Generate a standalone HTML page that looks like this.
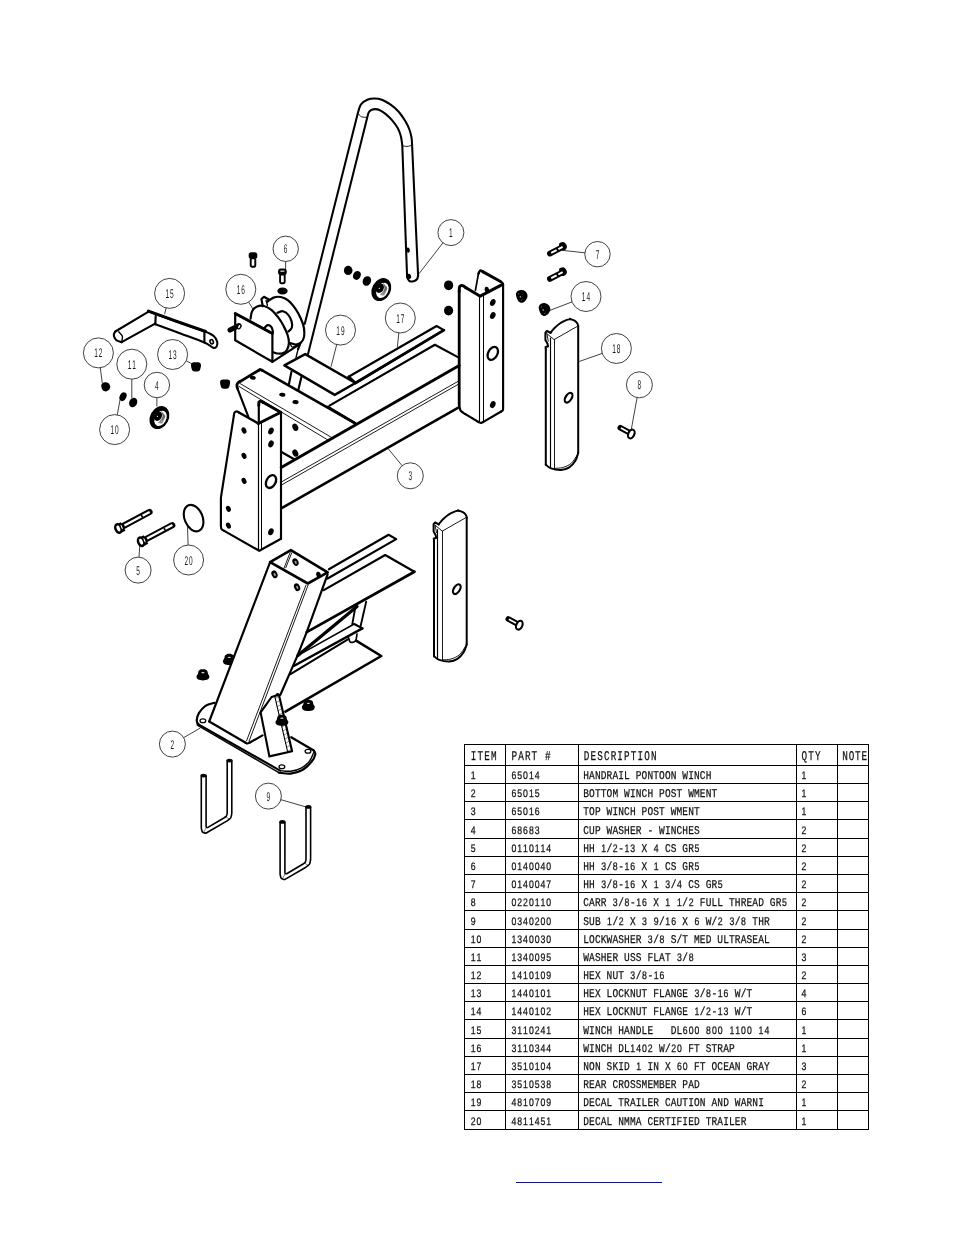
<!DOCTYPE html>
<html lang="en">
<head>
<meta charset="utf-8">
<title>Winch Post Assembly - Parts List</title>
<style>
html,body{margin:0;padding:0;background:#fff;}
body{width:954px;height:1235px;overflow:hidden;position:relative;font-family:"Liberation Mono","Liberation Sans",monospace;}
svg{position:absolute;left:0;top:0;display:block;will-change:transform;}
.k{fill:none;stroke:#000;stroke-width:2.15;stroke-linejoin:round;stroke-linecap:round;}
.m{fill:none;stroke:#000;stroke-width:1.4;stroke-linejoin:round;stroke-linecap:round;}
.t{fill:none;stroke:#000;stroke-width:0.9;stroke-linejoin:round;stroke-linecap:round;}
.w{fill:#fff;stroke:#000;stroke-width:2.15;stroke-linejoin:round;stroke-linecap:round;}
.wm{fill:#fff;stroke:#000;stroke-width:1.3;stroke-linejoin:round;stroke-linecap:round;}
.f{fill:#000;stroke:none;}
.b{fill:#fff;stroke:#111;stroke-width:0.8;}
.l{fill:none;stroke:#111;stroke-width:0.8;}
.g{fill:none;stroke:#000;stroke-width:1;shape-rendering:crispEdges;}
text{font-family:"Liberation Mono","Liberation Sans",monospace;fill:#111;stroke:#111;stroke-width:0.25;text-rendering:geometricPrecision;}
.bt{text-anchor:middle;font-family:"Liberation Sans",sans-serif;stroke:none;fill:#1a1a1a;}
.d{font-family:"Liberation Sans",sans-serif;}


</style>
</head>
<body>
<svg width="954" height="1235" viewBox="0 0 954 1235">
<g id="handrail">
<path class="k" d="M304.7 324L357.8 113.3C358.3 111.8 359.4 106.7 361 104.4C362.5 102.1 365 100.7 367.3 99.7C369.5 98.7 372.1 98.4 374.6 98.4C377 98.4 379.3 98.7 381.9 99.7C384.5 100.7 387.5 102.4 390.3 104.4C393.1 106.4 396.3 109 398.7 111.7C401.1 114.4 403.2 117.8 405 120.6C406.7 123.5 408.1 126.2 409.2 129C410.3 131.8 411 134.7 411.5 137.4C412 140.1 412 144 412.1 145.3L418.1 275.6" style="stroke-width:2.05"/>
<path class="k" d="M418.1 275.6C417.9 276.2 417.8 278.3 417 279.2C416.3 280.2 414.7 281.1 413.4 281.3C412.1 281.6 410.2 281.5 409.2 280.8C408.1 280.1 407.4 277.7 407.1 277.1"/>
<path class="k" d="M307.9 354.6L367.5 116.4C367.7 115.7 368.2 113.3 368.8 112.3C369.5 111.2 370.4 110.5 371.4 109.9C372.5 109.4 373.7 109.1 375.1 109.1C376.5 109.1 378 109.3 379.8 110.2C381.7 111 384 112.6 386.1 114.4C388.2 116.1 390.5 118.4 392.4 120.6C394.3 122.9 396.3 125.5 397.7 128C399 130.4 399.9 133 400.6 135.3C401.3 137.6 401.6 139.9 401.8 141.6C402.1 143.4 402.2 145.1 402.3 145.8L407.1 277.1" style="stroke-width:2.05"/>
<path class="k" d="M291.4 371.9L288.8 384.9"/>
<path class="k" d="M301.4 376.9L298.3 389.9"/>
<path class="t" d="M357.8 113.3C358.4 113.9 359.9 116.1 361.5 116.8C363.1 117.4 366.5 117.2 367.5 117.3"/>
<path class="t" d="M402.3 145.8C403.1 145.9 405.4 146.5 407.1 146.4C408.7 146.3 411.3 145.5 412.1 145.3"/>
<ellipse class="f" cx="408.1" cy="250.1" rx="1.7" ry="2.6" transform="rotate(-10 408.1 250.1)"/>
<ellipse class="f" cx="409.2" cy="276.3" rx="1.9" ry="2.6" transform="rotate(-20 409.2 276.3)"/>
</g>
<g id="weldment">
<path class="k" d="M237.4 388.3C237.3 387.7 236.8 386 236.9 385.1C237 384.2 237.2 383.7 237.9 383C238.5 382.3 240.3 381.4 240.8 381.1" style="stroke-width:2.8"/>
<path class="k" d="M240.8 381.1L259.3 370" style="stroke-width:2.8"/>
<path class="k" d="M259.3 370C259.5 369.9 260.1 369.5 260.5 369.5C261 369.6 261.9 370.2 262.2 370.3" style="stroke-width:2.8"/>
<path class="k" d="M262.2 370.3L355.3 423.4" style="stroke-width:2.6"/>
<path class="k" d="M237.4 388.3L248.3 416.6"/>
<path class="t" d="M239.8 383.4L333.5 438.6"/>
<path class="t" d="M238.9 386.4L329.5 441"/>
<path class="k" d="M327.8 406.9L355.3 423.4" style="stroke-width:2.6"/>
<path class="k" d="M281.2 467.6L459.2 365.6" style="stroke-width:2.9"/>
<path class="k" d="M281.2 508.4L459.2 407.1" style="stroke-width:2.5"/>
<path class="t" d="M281.5 481.9L459.2 380.7"/>
<path class="t" d="M281.5 485L459.2 383.8"/>
<path class="k" d="M329.5 405.6L434.9 344.8L458.8 357.6"/>
<path class="k" d="M281 451.8L294.2 459.3"/>
<path class="k" d="M233.9 415.3C234 414.9 234 413.2 234.5 412.5C235 411.9 235.9 411.3 236.6 411.3C237.4 411.3 238.5 412.3 238.9 412.5"/>
<path class="k" d="M238.9 412.5L258.4 423.5" style="stroke-width:2.5"/>
<path class="k" d="M233.9 415.3L220.9 497.7L220.9 526"/>
<path class="k" d="M220.9 526C221 526.6 221 528.4 221.5 529.2C222.1 530 223.8 530.6 224.2 530.9"/>
<path class="k" d="M224.2 530.9L259.3 550.8L281 538.8"/>
<path class="k" d="M258.4 423.5L280.4 412.5" style="stroke-width:3"/>
<path class="k" d="M258.8 405.3C258.8 404.7 258.7 402.8 259 402.1C259.4 401.4 260.2 401.2 260.9 401.2C261.6 401.3 263 402.3 263.4 402.5" style="stroke-width:3"/>
<path class="k" d="M263.4 402.5L280.7 412.2" style="stroke-width:3"/>
<path class="k" d="M258.8 405.3L258.8 423.1"/>
<path class="k" d="M281 412.3L281 538.8"/>
<path class="m" d="M258.5 423.5L258.5 550.5" style="stroke-width:1.2"/>
<path class="m" d="M261.5 423L261.5 549.5" style="stroke-width:1.0"/>
<ellipse class="f" cx="252.7" cy="377.7" rx="3.1" ry="2" transform="rotate(8 252.7 377.7)"/>
<ellipse class="f" cx="282.3" cy="394.8" rx="3.1" ry="2" transform="rotate(8 282.3 394.8)"/>
<ellipse class="f" cx="295.5" cy="402.1" rx="3.1" ry="2" transform="rotate(8 295.5 402.1)"/>
<ellipse class="f" cx="244" cy="430.5" rx="2.3" ry="3.2" transform="rotate(-25 244 430.5)"/>
<ellipse class="f" cx="244" cy="455.8" rx="2.3" ry="3.2" transform="rotate(-25 244 455.8)"/>
<ellipse class="f" cx="244" cy="480.9" rx="2.3" ry="3.2" transform="rotate(-25 244 480.9)"/>
<ellipse class="f" cx="228.4" cy="508.8" rx="2.3" ry="3.2" transform="rotate(-25 228.4 508.8)"/>
<ellipse class="f" cx="228.4" cy="525.6" rx="2.3" ry="3.2" transform="rotate(-25 228.4 525.6)"/>
<ellipse class="f" cx="271" cy="431" rx="2.6" ry="3.6" transform="rotate(25 271 431)"/>
<ellipse class="f" cx="271" cy="443.9" rx="2.6" ry="3.6" transform="rotate(25 271 443.9)"/>
<ellipse class="f" cx="270.9" cy="531.8" rx="2.6" ry="3.6" transform="rotate(25 270.9 531.8)"/>
<ellipse class="f" cx="295.3" cy="427.3" rx="2.8" ry="3.8" transform="rotate(-25 295.3 427.3)"/>
<ellipse class="f" cx="295.3" cy="453.1" rx="2.8" ry="3.8" transform="rotate(-25 295.3 453.1)"/>
<ellipse class="k" cx="271" cy="481.6" rx="4.6" ry="6.8" transform="rotate(28 271 481.6)" style="stroke-width:2.3"/>
<path class="k" d="M459.2 291.4C459.3 290.6 459.1 287.5 459.7 286.5C460.3 285.6 461.8 285.5 462.8 285.7C463.9 285.9 465.4 287.4 466 287.8" style="stroke-width:3"/>
<path class="k" d="M466 287.8L480.2 296.2L502.6 284.4" style="stroke-width:3"/>
<path class="k" d="M459.2 291.4L459.2 405" style="stroke-width:2.8"/>
<path class="k" d="M459.2 405C459.4 405.9 459.6 409.1 460.6 410.6C461.6 412.1 464.6 413.6 465.4 414.2"/>
<path class="k" d="M465.4 414.2L478.5 422"/>
<path class="k" d="M478.5 422C479 422.1 480.2 423.1 481 423C481.9 422.9 483.3 421.8 483.8 421.6"/>
<path class="k" d="M483.8 421.6L501.2 411.5"/>
<path class="k" d="M501.2 411.5C501.5 411.3 502.5 410.9 502.9 410.2C503.2 409.6 503 408.1 503.1 407.7"/>
<path class="k" d="M503.1 407.7L503.1 284.4"/>
<path class="k" d="M503.1 284.4C503 284.2 503.1 283.5 502.6 283C502.2 282.5 500.9 281.8 500.5 281.5"/>
<path class="k" d="M500.5 281.5L483.1 271.9" style="stroke-width:3"/>
<path class="k" d="M483.1 271.9C482.7 271.7 481 270.3 480.2 270.6C479.4 270.9 478.8 273.1 478.5 273.5" style="stroke-width:2.5"/>
<path class="k" d="M478.5 273.5L475.4 290.3" style="stroke-width:1.7"/>
<path class="m" d="M479.5 296.5L479.5 422" style="stroke-width:1.1"/>
<path class="m" d="M483.5 295L483.5 421.5" style="stroke-width:1.0"/>
<ellipse class="f" cx="492.8" cy="302.5" rx="2.6" ry="3.6" transform="rotate(25 492.8 302.5)"/>
<ellipse class="f" cx="492.8" cy="315.5" rx="2.6" ry="3.6" transform="rotate(25 492.8 315.5)"/>
<ellipse class="f" cx="492.8" cy="404.6" rx="2.6" ry="3.6" transform="rotate(25 492.8 404.6)"/>
<ellipse class="f" cx="486.9" cy="289.9" rx="2.2" ry="3.2" transform="rotate(-10 486.9 289.9)"/>
<ellipse class="k" cx="492.8" cy="353.4" rx="4.6" ry="7" transform="rotate(28 492.8 353.4)" style="stroke-width:2.3"/>
<path class="k" d="M284.4 365.4L305.2 354.1L355.5 383L334.7 394.9Z" style="stroke-width:2.45"/>
<path class="k" d="M348.6 376.7L436.6 326L443.9 330.1L355.5 383Z"/>
<path class="k" d="M443.9 330.1L355.5 383" style="stroke-width:2.8"/>
<path class="k" d="M348.6 376.7L355.5 383" style="stroke-width:2.4"/>
</g>
<g id="winch">
<path class="k" d="M267.7 301.5C268.7 300.8 271.3 298.4 273.5 297.6C275.6 296.9 278.4 296.5 280.8 297C283.2 297.5 285.7 298.5 288.1 300.4C290.6 302.4 293.4 305.9 295.5 308.8C297.6 311.8 299.3 315.1 300.7 318.3C302.1 321.4 303.3 324.6 303.9 327.7C304.4 330.8 304.5 334.2 304.1 336.6C303.6 339 302.6 341.1 301.2 342.4C299.9 343.7 297.9 344.4 296 344.5C294.1 344.6 290.8 343.2 289.7 342.9" style="stroke-width:2.2"/>
<path class="k" d="M250.6 318.6C250.8 317.4 251 313.4 252 311.4C253 309.5 254.7 307.6 256.7 306.7C258.7 305.8 261.6 305.5 264 306C266.5 306.5 269.1 308.1 271.4 309.9C273.6 311.7 275.6 314.1 277.7 316.7C279.7 319.3 281.8 322.5 283.4 325.6C285.1 328.7 286.7 332.1 287.6 335C288.5 337.9 289 340.4 288.9 342.9C288.8 345.3 288.2 348 287.1 349.7C286 351.5 284.1 352.8 282.4 353.4C280.6 354 278.1 353.5 276.6 353.4C275.1 353.2 273.8 352.5 273.2 352.3" style="stroke-width:2.2"/>
<path class="k" d="M277.4 312.7C278.4 312.5 281.1 310.9 282.9 311.2C284.7 311.6 286.7 312.9 288.1 314.6C289.6 316.3 291 319.2 291.6 321.4C292.2 323.6 292.3 326 291.8 327.7C291.3 329.4 288.9 330.9 288.3 331.6"/>
<path class="k" d="M264.5 327.7C265.1 327.3 266.6 325.2 267.7 325.1C268.8 325 270.5 325.8 271.4 327C272.3 328.1 272.8 331.1 273 331.9"/>
<path class="m" d="M289.7 342.9C290.1 343.6 291.2 346.6 292.3 347.1C293.5 347.5 295.8 345.8 296.5 345.5"/>
<path class="k" d="M262.8 306.2L261.4 299.1L264 296.8L269.1 299.7" style="stroke-width:2.2"/>
<path class="m" d="M266.1 300.4L267.4 305.2"/>
<path class="k" d="M235.2 313.5L272.4 333.5L272.4 361.8L235.2 340.3Z" style="stroke-width:2.2"/>
<path class="k" d="M235.2 313.5L272.4 333.5" style="stroke-width:2.8"/>
<path class="k" d="M272.4 361.8L300.2 343.9L298.1 349.2" style="stroke-width:2.2"/>
<path class="m" d="M298.1 349.2L296 357.6"/>
<path class="k" d="M230 330.1L238.9 325.6" style="stroke-width:5"/>
<ellipse class="wm" cx="239.2" cy="326.6" rx="1.5" ry="2.4" transform="rotate(30 239.2 326.6)"/>
<ellipse class="f" cx="282.5" cy="291" rx="5.2" ry="3.5"/>
<rect class="f" x="248.7" y="252.2" width="8.6" height="6.6" rx="2.6"/>
<rect x="250.7" y="258.2" width="4.6" height="8.6" rx="1.2" fill="#fff" stroke="#000" stroke-width="1.9"/>
<rect class="f" x="278.1" y="268.6" width="8.6" height="6.6" rx="2.6"/>
<rect x="280.1" y="274.6" width="4.6" height="8.6" rx="1.2" fill="#fff" stroke="#000" stroke-width="1.9"/>
<rect x="280.4" y="270.6" width="4" height="1.1" fill="#fff"/>
</g>
<g id="small">
<path class="k" d="M115.3 331.5L149 311.4" style="stroke-width:2.1"/>
<path class="k" d="M121.6 342.2L154.7 323.9" style="stroke-width:2.1"/>
<path class="k" d="M115.3 331.5C115.1 332.1 113.7 333.6 113.8 335C113.9 336.4 114.8 338.8 116.1 340C117.4 341.2 120.7 341.8 121.6 342.2" style="stroke-width:2.1"/>
<path class="m" d="M118.6 331.7C119.2 332.5 121.9 334.6 122.4 336.3C122.9 337.9 121.7 340.9 121.6 341.8"/>
<path class="k" d="M149 311.4C153.4 313 166 317.8 175.4 321.2C184.9 324.6 199.2 329.2 205.6 331.7C212.1 334.3 212.3 334.8 214.2 336.5C216.1 338.2 216.8 340.2 217.2 341.8C217.6 343.4 217.3 345.3 216.7 346.3C216.1 347.3 215.5 348.5 213.4 347.8C211.4 347.2 209.9 344.9 204.4 342.5C198.9 340.2 188.8 336.6 180.5 333.5C172.2 330.4 159 325.5 154.7 323.9" style="stroke-width:2.1"/>
<path class="k" d="M148.4 311.1L175.4 320.9L205.6 331.5" style="stroke-width:3.1"/>
<path class="k" d="M155.7 315.8L155.3 324.2"/>
<path class="k" d="M204.4 332.5L204.4 342.5"/>
<ellipse class="k" cx="211.7" cy="341.8" rx="1.6" ry="2.2" transform="rotate(-20 211.7 341.8)" style="stroke-width:1.6"/>
<path class="f" d="M101.2 385.6C101.2 384.5 101.9 383.8 102.6 383.2C103.3 382.6 104.6 382.2 105.6 382.2C106.6 382.2 107.8 382.5 108.6 383.2C109.4 383.9 110.1 385.3 110.2 386.4C110.3 387.5 109.7 389 109 389.8C108.3 390.6 106.9 391.4 105.8 391.4C104.7 391.4 103.4 391 102.6 390C101.8 389 101.2 386.7 101.2 385.6Z"/>
<path class="f" d="M191 365.3C191 364.2 191.2 363.4 192 362.9C192.8 362.4 194.7 362.3 196 362.3C197.3 362.3 199.2 362.4 200 362.9C200.8 363.4 201 364.2 201 365.3C201 366.4 200.6 368.3 200.2 369.3C199.8 370.3 199.5 371 198.4 371.3C197.3 371.6 194.7 371.6 193.6 371.3C192.5 371 192.2 370.3 191.8 369.3C191.4 368.3 191 366.4 191 365.3Z"/>
<path class="f" d="M220.1 382.5C220.1 381.4 220.3 380.6 221.1 380.1C221.9 379.6 223.8 379.5 225.1 379.5C226.4 379.5 228.3 379.6 229.1 380.1C229.9 380.6 230.1 381.4 230.1 382.5C230.1 383.6 229.7 385.5 229.3 386.5C228.9 387.5 228.6 388.2 227.5 388.5C226.4 388.8 223.8 388.8 222.7 388.5C221.6 388.2 221.3 387.5 220.9 386.5C220.5 385.5 220.1 383.6 220.1 382.5Z"/>
<ellipse class="f" cx="123" cy="396.7" rx="3.3" ry="4.6" transform="rotate(25 123 396.7)"/>
<ellipse class="f" cx="133.2" cy="402.5" rx="3.9" ry="5" transform="rotate(25 133.2 402.5)"/>
<ellipse class="f" cx="159.4" cy="417.6" rx="9.3" ry="12" transform="rotate(28 159.4 417.6)"/>
<ellipse class="f" cx="160.5" cy="418.3" rx="5.7" ry="8.1" transform="rotate(28 160.5 418.3)" style="fill:#fff"/>
<ellipse class="f" cx="157.9" cy="416.1" rx="3.9" ry="5" transform="rotate(28 157.9 416.1)"/>
<ellipse class="f" cx="157.4" cy="416.4" rx="0.7" ry="0.5" transform="rotate(-40 157.4 416.4)" style="fill:#fff"/>
<path class="t" d="M161.6 411.6C161.8 412.5 163.3 415.2 162.8 417.1C162.3 419 159.1 421.9 158.4 422.8" style="stroke-width:0.5;stroke:#333;stroke-dasharray:0.9 0.6"/>
<path class="t" d="M162.3 412.5C162.5 413.3 163.8 415.5 163.2 417.2C162.7 418.9 160 422 159.3 422.9" style="stroke-width:0.5;stroke:#333;stroke-dasharray:0.9 0.6"/>
<path class="t" d="M163.1 413.4C163.2 414.1 164.2 415.7 163.7 417.3C163.2 418.9 160.8 422.1 160.2 423.1" style="stroke-width:0.5;stroke:#333;stroke-dasharray:0.9 0.6"/>
<path class="t" d="M163.8 414.3C163.9 414.8 164.6 415.9 164.2 417.4C163.7 418.9 161.6 422.3 161.1 423.2" style="stroke-width:0.5;stroke:#333;stroke-dasharray:0.9 0.6"/>
<path class="t" d="M164.6 415.2C164.6 415.6 165 416.1 164.6 417.5C164.2 418.9 162.4 422.4 162 423.4" style="stroke-width:0.5;stroke:#333;stroke-dasharray:0.9 0.6"/>
<ellipse class="f" cx="381.3" cy="289.6" rx="9.3" ry="12" transform="rotate(28 381.3 289.6)"/>
<ellipse class="f" cx="382.4" cy="290.3" rx="5.7" ry="8.1" transform="rotate(28 382.4 290.3)" style="fill:#fff"/>
<ellipse class="f" cx="379.8" cy="288.1" rx="3.9" ry="5" transform="rotate(28 379.8 288.1)"/>
<ellipse class="f" cx="379.3" cy="288.4" rx="0.7" ry="0.5" transform="rotate(-40 379.3 288.4)" style="fill:#fff"/>
<path class="t" d="M383.5 283.6C383.7 284.5 385.2 287.2 384.7 289.1C384.2 291 381 293.9 380.3 294.8" style="stroke-width:0.5;stroke:#333;stroke-dasharray:0.9 0.6"/>
<path class="t" d="M384.2 284.5C384.4 285.3 385.7 287.5 385.1 289.2C384.6 290.9 381.9 294 381.2 294.9" style="stroke-width:0.5;stroke:#333;stroke-dasharray:0.9 0.6"/>
<path class="t" d="M385 285.4C385.1 286.1 386.1 287.7 385.6 289.3C385.1 290.9 382.7 294.1 382.1 295.1" style="stroke-width:0.5;stroke:#333;stroke-dasharray:0.9 0.6"/>
<path class="t" d="M385.8 286.3C385.8 286.8 386.5 287.9 386.1 289.4C385.6 290.9 383.5 294.3 383 295.2" style="stroke-width:0.5;stroke:#333;stroke-dasharray:0.9 0.6"/>
<path class="t" d="M386.5 287.2C386.5 287.6 386.9 288.1 386.5 289.5C386.1 290.9 384.3 294.4 383.9 295.4" style="stroke-width:0.5;stroke:#333;stroke-dasharray:0.9 0.6"/>
<ellipse class="f" cx="348.2" cy="270.4" rx="4.3" ry="4.6"/>
<ellipse class="f" cx="356.9" cy="275.4" rx="3.7" ry="4.5" transform="rotate(25 356.9 275.4)"/>
<ellipse class="f" cx="366.9" cy="281" rx="4.1" ry="5" transform="rotate(25 366.9 281)"/>
</g>
<g id="right">
<path class="k" d="M549.9 253.6L563.2 246.7" style="stroke-width:5.7"/>
<path class="f" d="M559.1 243.9C559.5 242.6 562 241.9 563.2 242C564.3 242.1 565.7 243.6 566.3 244.6C566.9 245.6 567.1 247 566.7 247.9C566.4 248.9 565.2 250 564.3 250.4C563.3 250.7 561.8 251.2 560.9 250.1C560.1 249.1 558.8 245.3 559.1 243.9Z"/>
<path class="k" d="M551.2 252.9L556.6 250.1" style="stroke:#fff;stroke-width:1.9;stroke-linecap:butt"/>
<path class="k" d="M558.3 249.2L562.6 246.8" style="stroke:#fff;stroke-width:1.9;stroke-linecap:butt"/>
<path class="k" d="M549.9 278.9L563.2 272" style="stroke-width:5.7"/>
<path class="f" d="M559.1 269.2C559.5 267.9 562 267.2 563.2 267.3C564.3 267.4 565.7 268.9 566.3 269.9C566.9 270.9 567.1 272.3 566.7 273.2C566.4 274.2 565.2 275.3 564.3 275.7C563.3 276 561.8 276.5 560.9 275.4C560.1 274.4 558.8 270.6 559.1 269.2Z"/>
<path class="k" d="M551.2 278.2L556.6 275.4" style="stroke:#fff;stroke-width:1.9;stroke-linecap:butt"/>
<path class="k" d="M558.3 274.5L562.6 272.1" style="stroke:#fff;stroke-width:1.9;stroke-linecap:butt"/>
<path class="f" d="M538.7 307.5C538.7 305.8 539.7 304.6 540.8 303.9C541.9 303.2 543.8 302.9 545.2 303.2C546.6 303.5 548.1 304.4 549 305.5C549.9 306.6 550.5 308.3 550.3 309.7C550.1 311.1 549 313.1 548 314.1C547 315.1 545.8 315.9 544.6 315.9C543.4 315.9 541.8 315.3 540.8 313.9C539.8 312.5 538.7 309.2 538.7 307.5Z"/>
<ellipse class="f" cx="543.2" cy="309.9" rx="0.5" ry="1" transform="rotate(-35 543.2 309.9)" style="fill:#ccc"/>
<ellipse class="f" cx="541.4" cy="306.9" rx="0.8" ry="0.3" transform="rotate(-40 541.4 306.9)" style="fill:#999"/>
<ellipse class="f" cx="544.7" cy="313.3" rx="0.8" ry="0.3" transform="rotate(-40 544.7 313.3)" style="fill:#999"/>
<path class="f" d="M515.9 294.3C515.9 292.6 516.9 291.4 518 290.7C519.1 290 521 289.7 522.4 290C523.8 290.3 525.4 291.2 526.2 292.3C527.1 293.4 527.7 295.1 527.5 296.5C527.3 297.9 526.2 299.9 525.2 300.9C524.2 301.9 523 302.7 521.8 302.7C520.6 302.7 519 302.1 518 300.7C517 299.3 515.9 296 515.9 294.3Z"/>
<ellipse class="f" cx="520.4" cy="296.7" rx="0.5" ry="1" transform="rotate(-35 520.4 296.7)" style="fill:#ccc"/>
<ellipse class="f" cx="518.6" cy="293.7" rx="0.8" ry="0.3" transform="rotate(-40 518.6 293.7)" style="fill:#999"/>
<ellipse class="f" cx="521.9" cy="300.1" rx="0.8" ry="0.3" transform="rotate(-40 521.9 300.1)" style="fill:#999"/>
<ellipse class="f" cx="448.6" cy="285.3" rx="4.6" ry="4.9"/>
<ellipse class="f" cx="448.6" cy="310.6" rx="4.6" ry="4.9"/>
<path class="k" d="M438.6 524.4C439.2 523.6 441.1 521.2 442.6 519.6C444.2 518.1 446 516.4 447.7 515.2C449.4 514 451 513.1 452.7 512.4C454.4 511.6 456.1 510.7 457.7 510.7C459.4 510.6 461.4 511.4 462.8 512.1C464.1 512.8 465.3 514.1 465.9 515C466.6 515.9 466.5 517.1 466.7 517.5" style="stroke-width:2.0"/>
<path class="f" d="M456 511.2L458 509L461.2 511.3Z"/>
<path class="k" d="M438.9 524.4L435.1 522.5L433.6 524.2L433.6 531.4L435.7 535.2L436.2 537.9L433.7 538.4L434 540.3" style="stroke-width:2.0"/>
<path class="k" d="M434 540.3L434 656.2" style="stroke-width:2.0"/>
<path class="k" d="M434 656.2C434.8 656.8 436.1 658.7 438.6 659.6C441.1 660.5 446 661.6 449.1 661.5C452.2 661.4 455.1 660.3 457.5 658.8C459.9 657.3 462.1 654.7 463.6 652.3C465.1 649.9 466.2 645.7 466.7 644.4" style="stroke-width:2.0"/>
<path class="k" d="M466.7 517.5L466.7 644.4" style="stroke-width:2.0"/>
<path class="m" d="M437.5 529.6L437.5 658.2" style="stroke-width:1.15"/>
<path class="t" d="M442.5 531.1L442.5 660"/>
<path class="t" d="M435.1 525.2L442.3 531.1L465.4 517.9"/>
<path class="t" d="M435.1 525.2L436.5 532.7"/>
<path class="t" d="M443 659.8C444.3 659.7 448.3 659.8 451 659C453.7 658.2 457 656.9 459.4 654.8C461.8 652.7 464.4 648 465.4 646.6"/>
<ellipse class="k" cx="456.8" cy="589.2" rx="3" ry="5.4" transform="rotate(32 456.8 589.2)" style="stroke-width:2.2"/>
<path class="k" d="M550.4 332.9C551 332.1 552.9 329.7 554.4 328.1C556 326.6 557.8 324.9 559.5 323.7C561.2 322.5 562.8 321.6 564.5 320.9C566.2 320.1 567.9 319.2 569.5 319.2C571.2 319.1 573.3 319.9 574.6 320.6C575.9 321.3 576.8 322.6 577.4 323.5C578 324.4 578 325.6 578.2 326" style="stroke-width:2.0"/>
<path class="f" d="M567.8 319.7L569.8 317.5L573 319.8Z"/>
<path class="k" d="M550.7 332.9L546.9 331L545.4 332.7L545.4 339.9L547.5 343.7L548 346.4L545.5 346.9L545.8 348.8" style="stroke-width:2.0"/>
<path class="k" d="M545.8 348.8L545.8 464.7" style="stroke-width:2.0"/>
<path class="k" d="M545.8 464.7C546.6 465.3 547.9 467.2 550.4 468.1C552.9 469 557.8 470.1 560.9 470C564 469.9 566.9 468.8 569.3 467.3C571.7 465.8 573.9 463.2 575.4 460.8C576.9 458.4 577.7 454.2 578.2 452.9" style="stroke-width:2.0"/>
<path class="k" d="M578.2 326L578.2 452.9" style="stroke-width:2.0"/>
<path class="m" d="M550.5 338.1L550.5 466.7" style="stroke-width:1.15"/>
<path class="t" d="M554.5 339.6L554.5 468.5"/>
<path class="t" d="M546.9 333.7L554.1 339.6L577.2 326.4"/>
<path class="t" d="M546.9 333.7L548.3 341.2"/>
<path class="t" d="M554.8 468.3C556.1 468.2 560.1 468.3 562.8 467.5C565.5 466.7 568.8 465.4 571.2 463.3C573.6 461.2 576.2 456.5 577.2 455.1"/>
<ellipse class="k" cx="568.6" cy="397.7" rx="3" ry="5.4" transform="rotate(32 568.6 397.7)" style="stroke-width:2.2"/>
<path class="k" d="M620.3 427.8L629.2 432.5" style="stroke-width:5.6"/>
<path class="k" d="M620.9 428.1L629.2 432.5" style="stroke:#fff;stroke-width:1.7;stroke-linecap:butt"/>
<ellipse class="w" cx="631.3" cy="434" rx="3" ry="4.6" transform="rotate(25 631.3 434)" style="stroke-width:2.1"/>
<path class="k" d="M508.3 619L517.2 623.7" style="stroke-width:5.6"/>
<path class="k" d="M508.9 619.3L517.2 623.7" style="stroke:#fff;stroke-width:1.7;stroke-linecap:butt"/>
<ellipse class="w" cx="519.3" cy="625.2" rx="3" ry="4.6" transform="rotate(25 519.3 625.2)" style="stroke-width:2.1"/>
</g>
<g id="bottom">
<path class="k" d="M328.9 569.3L388.6 534.8L396.2 539.1L327.6 578.5"/>
<path class="k" d="M323.8 590.1L385.2 555L414.4 571.8"/>
<path class="k" d="M414.4 571.8L306.7 632.1" style="stroke-width:2.8"/>
<path class="k" d="M270.1 562.1L290.8 550.1L327.7 572.4L307.8 583.5Z" style="stroke-width:2.6"/>
<path class="k" d="M270.1 562.1L209.2 721.5"/>
<path class="k" d="M209.2 721.5L245.2 742.5"/>
<path class="k" d="M245.2 742.5C245.5 742.6 246.6 743.5 247.4 743.5C248.2 743.5 249.4 742.6 249.9 742.5"/>
<path class="k" d="M249.9 742.5L262.5 735.4"/>
<path class="k" d="M327.6 574.3L306.7 632.1L297.6 655.4L280.4 694.8"/>
<path class="t" d="M305.9 585.3L246.6 740.7"/>
<path class="t" d="M308 585.3L249 741.3"/>
<path class="t" d="M290.2 552.4L283.9 568.4"/>
<path class="t" d="M291.7 552.9L285.8 567.7"/>
<ellipse class="f" cx="295.5" cy="562.1" rx="2.9" ry="4" transform="rotate(-25 295.5 562.1)"/>
<ellipse class="f" cx="295.7" cy="562.3" rx="1" ry="1.7" transform="rotate(-25 295.7 562.3)" style="fill:#999"/>
<ellipse class="f" cx="274.5" cy="574.3" rx="2.9" ry="4" transform="rotate(-25 274.5 574.3)"/>
<ellipse class="f" cx="274.7" cy="574.5" rx="1" ry="1.7" transform="rotate(-25 274.7 574.5)" style="fill:#999"/>
<ellipse class="f" cx="297.1" cy="587.2" rx="2.9" ry="4" transform="rotate(-25 297.1 587.2)"/>
<ellipse class="f" cx="297.3" cy="587.4" rx="1" ry="1.7" transform="rotate(-25 297.3 587.4)" style="fill:#999"/>
<ellipse class="f" cx="318.5" cy="574.7" rx="2.3" ry="3" transform="rotate(-10 318.5 574.7)"/>
<path class="k" d="M357 606.6L297.9 655.4" style="stroke-width:3.3"/>
<path class="k" d="M355.5 606.4L352.3 624.2" style="stroke-width:1.9"/>
<path class="k" d="M366.2 601.6L360.5 626.5" style="stroke-width:1.9"/>
<path class="m" d="M303 652.6L354.2 624" style="stroke-width:1.5"/>
<path class="k" d="M354.2 624L362.4 628.4"/>
<path class="k" d="M362.4 628.4L294.2 665.7" style="stroke-width:2.4"/>
<path class="k" d="M347.9 639.3L290.5 674.1" style="stroke-width:2.0"/>
<path class="k" d="M348.6 637.8C348.9 638.5 349.3 641.7 350.4 642.2C351.6 642.7 354.4 642.3 355.5 640.9C356.6 639.6 356.7 635.2 357 634" style="stroke-width:1.7"/>
<path class="k" d="M356.5 640.9L381.3 656L285.4 711.6" style="stroke-width:2.6"/>
<path class="k" d="M214.4 702.8C212.9 703.3 208.1 704.1 205.5 705.8C203 707.5 200.4 710.7 198.9 713.1C197.5 715.5 196.8 718.6 196.7 720.4C196.7 722.3 198.2 723.7 198.5 724.4"/>
<path class="k" d="M198.5 724.4L280.1 770.6"/>
<path class="m" d="M197 722.9L197.3 725.1L278.9 772.7"/>
<path class="k" d="M278.9 772.7C280.9 772.8 286.7 774 290.7 773.6C294.6 773.1 298.9 772 302.4 770C305.9 768.1 309.3 764.4 311.5 761.8C313.7 759.2 314.9 756.4 315.3 754.5C315.7 752.6 314.1 751.2 313.8 750.5"/>
<path class="m" d="M280.1 770.6C281.9 770.7 287.1 771.7 290.7 771.2C294.3 770.8 298.5 769.6 301.7 767.8C304.8 766.1 307.8 763.3 309.7 760.8C311.7 758.3 312.9 754.1 313.6 752.7"/>
<path class="k" d="M313.8 750.5L291.2 737.2"/>
<ellipse class="k" cx="202.9" cy="720.7" rx="2.9" ry="1.9" style="stroke-width:1.3"/>
<ellipse class="k" cx="308" cy="751.3" rx="2.9" ry="1.9" style="stroke-width:1.3"/>
<ellipse class="k" cx="281.9" cy="766.7" rx="2.9" ry="1.9" style="stroke-width:1.3"/>
<path class="w" d="M260.6 712.4L271.6 697L278.9 694.8L292.1 751.3L269.4 756.4Z"/>
<path class="m" d="M274.8 696.7L287.7 752" style="stroke-width:1.1"/>
<ellipse class="f" cx="277.6" cy="694.6" rx="1.9" ry="1.6"/>
<path class="t" d="M275.4 698.4L278.3 696.8" style="stroke-width:0.45"/>
<path class="t" d="M276.3 702.5L279.2 700.9" style="stroke-width:0.45"/>
<path class="t" d="M277.3 706.6L280.2 705" style="stroke-width:0.45"/>
<path class="t" d="M278.2 710.6L281.1 709" style="stroke-width:0.45"/>
<path class="t" d="M279.2 714.7L282.1 713.1" style="stroke-width:0.45"/>
<path class="t" d="M280.1 718.7L283 717.1" style="stroke-width:0.45"/>
<path class="t" d="M281.1 722.8L284 721.2" style="stroke-width:0.45"/>
<path class="t" d="M282 726.9L284.9 725.3" style="stroke-width:0.45"/>
<path class="t" d="M283 730.9L285.9 729.3" style="stroke-width:0.45"/>
<path class="t" d="M283.9 735L286.8 733.4" style="stroke-width:0.45"/>
<path class="t" d="M284.9 739.1L287.8 737.5" style="stroke-width:0.45"/>
<path class="t" d="M285.8 743.1L288.7 741.5" style="stroke-width:0.45"/>
<path class="t" d="M286.8 747.2L289.7 745.6" style="stroke-width:0.45"/>
<path class="t" d="M287.7 751.3L290.6 749.7" style="stroke-width:0.45"/>
<path class="f" d="M196.5 676.5C196.5 675.6 197.6 674.7 197.9 673.7C198.3 672.8 198.1 671.7 198.6 670.9C199.1 670.2 199.9 669.6 200.9 669.3C202 669.1 203.8 669.1 204.9 669.3C206 669.6 206.8 670.2 207.3 670.9C207.8 671.7 207.7 672.8 208 673.7C208.4 674.7 209.4 675.6 209.4 676.5C209.4 677.5 209 678.7 207.9 679.3C206.8 680 204.6 680.5 202.9 680.5C201.2 680.5 199 680 197.9 679.3C196.8 678.7 196.5 677.5 196.5 676.5Z"/>
<ellipse class="f" cx="202.9" cy="672.7" rx="1.6" ry="0.6" style="fill:#e8e8e8"/>
<path class="f" d="M301.9 707.1C301.9 706.1 302.9 705.2 303.3 704.3C303.6 703.3 303.5 702.2 304 701.5C304.5 700.7 305.2 700.1 306.3 699.9C307.3 699.6 309.2 699.6 310.3 699.9C311.3 700.1 312.2 700.7 312.7 701.5C313.2 702.2 313 703.3 313.4 704.3C313.7 705.2 314.8 706.1 314.8 707.1C314.8 708 314.4 709.2 313.3 709.9C312.2 710.5 309.9 711.1 308.3 711.1C306.6 711.1 304.3 710.5 303.3 709.9C302.2 709.2 301.9 708 301.9 707.1Z"/>
<ellipse class="f" cx="308.3" cy="703.3" rx="1.6" ry="0.6" style="fill:#e8e8e8"/>
<path class="f" d="M275.5 722C275.5 721.1 276.5 720.2 276.9 719.2C277.2 718.3 277.1 717.2 277.6 716.4C278.1 715.7 278.8 715.1 279.9 714.8C280.9 714.6 282.8 714.6 283.9 714.8C284.9 715.1 285.7 715.7 286.3 716.4C286.8 717.2 286.6 718.3 287 719.2C287.3 720.2 288.4 721.1 288.4 722C288.3 723 287.9 724.2 286.9 724.8C285.8 725.5 283.5 726 281.9 726C280.2 726 277.9 725.5 276.9 724.8C275.8 724.2 275.5 723 275.5 722Z"/>
<ellipse class="f" cx="281.9" cy="718.2" rx="1.6" ry="0.6" style="fill:#e8e8e8"/>
<clipPath id="cn"><path d="M150 640H239.6L208.6 721.5H150Z"/></clipPath>
<g clip-path="url(#cn)">
<path class="f" d="M222.9 661.1C222.9 660.2 224 659.3 224.3 658.3C224.7 657.4 224.5 656.3 225 655.5C225.5 654.8 226.3 654.2 227.3 653.9C228.4 653.7 230.3 653.7 231.3 653.9C232.4 654.2 233.2 654.8 233.7 655.5C234.2 656.3 234.1 657.4 234.4 658.3C234.8 659.3 235.8 660.2 235.8 661.1C235.8 662.1 235.4 663.3 234.3 663.9C233.2 664.6 231 665.1 229.3 665.1C227.7 665.1 225.4 664.6 224.3 663.9C223.3 663.3 222.9 662.1 222.9 661.1Z"/>
<ellipse class="f" cx="229.3" cy="657.3" rx="1.6" ry="0.6" style="fill:#e8e8e8"/>
</g>
<path class="k" d="M201.3 775.9L201.3 827.9L201.3 827.9C201.5 828.6 201.7 831.1 202.4 832C203.1 832.9 205.2 833.1 205.8 833.3L205.8 833.3L227.1 820.9L227.1 820.9C227.7 820.4 229.9 819.2 230.7 817.9C231.5 816.5 231.7 813.8 231.8 813L231.8 813L231.8 760.9" style="stroke-width:1.6"/>
<path class="k" d="M206.1 775.9L206.1 825.8L206.1 825.8C206.1 826 206.2 827.1 206.5 827.4C206.8 827.7 207.7 827.4 208 827.4L207.9 827.4L224.3 817.7L224.3 817.7C224.7 817.4 226 816.6 226.5 815.8C227 815 227.1 813.4 227.2 813L227.2 813L227.2 760.9" style="stroke-width:1.6"/>
<path class="t" d="M206.4 827.4L203.6 832.6" style="stroke-width:0.5"/>
<path class="t" d="M225.7 816.8L229.5 819.2" style="stroke-width:0.5"/>
<ellipse class="f" cx="203.6" cy="775.6" rx="3.1" ry="1.9"/>
<ellipse class="f" cx="229.5" cy="760.6" rx="3.1" ry="1.9"/>
<path class="k" d="M280.1 822.2L280.1 874.2L280.1 874.2C280.3 874.9 280.5 877.4 281.2 878.3C281.9 879.2 284 879.4 284.6 879.6L284.6 879.6L305.9 867.2L305.9 867.2C306.5 866.7 308.7 865.5 309.5 864.2C310.3 862.8 310.5 860.1 310.6 859.3L310.6 859.3L310.6 807.2" style="stroke-width:1.6"/>
<path class="k" d="M284.9 822.2L284.9 872.1L284.9 872.1C284.9 872.3 285 873.4 285.3 873.7C285.6 874 286.5 873.7 286.8 873.7L286.7 873.7L303.1 864L303.1 864C303.5 863.7 304.8 862.9 305.3 862.1C305.8 861.3 305.9 859.7 306 859.3L306 859.3L306 807.2" style="stroke-width:1.6"/>
<path class="t" d="M285.2 873.7L282.4 878.9" style="stroke-width:0.5"/>
<path class="t" d="M304.5 863.1L308.3 865.5" style="stroke-width:0.5"/>
<ellipse class="f" cx="282.4" cy="821.9" rx="3.1" ry="1.9"/>
<ellipse class="f" cx="308.3" cy="806.9" rx="3.1" ry="1.9"/>
<path class="k" d="M122.1 526.6L149.5 512" style="stroke-width:6.3"/>
<path class="k" d="M124.4 525.4L149.6 511.9" style="stroke:#fff;stroke-width:2.3;stroke-linecap:butt"/>
<path class="k" d="M141.1 515L142.7 517.3" style="stroke-width:1.5;stroke-linecap:butt"/>
<path class="k" d="M118.7 528.8L123.2 526.4" style="stroke-width:9.6;stroke-linecap:butt"/>
<ellipse class="w" cx="118.4" cy="528.5" rx="2.9" ry="4.4" transform="rotate(-22 118.4 528.5)" style="stroke-width:2.5"/>
<ellipse class="f" cx="121.7" cy="527" rx="0.6" ry="2.4" transform="rotate(-22 121.7 527)" style="fill:#fff"/>
<path class="k" d="M144.9 539.8L172.2 525.2" style="stroke-width:6.3"/>
<path class="k" d="M147.1 538.6L172.4 525.1" style="stroke:#fff;stroke-width:2.3;stroke-linecap:butt"/>
<path class="k" d="M163.9 528.2L165.5 530.5" style="stroke-width:1.5;stroke-linecap:butt"/>
<path class="k" d="M141.4 542L146 539.6" style="stroke-width:9.6;stroke-linecap:butt"/>
<ellipse class="w" cx="141.1" cy="541.7" rx="2.9" ry="4.4" transform="rotate(-22 141.1 541.7)" style="stroke-width:2.5"/>
<ellipse class="f" cx="144.5" cy="540.2" rx="0.6" ry="2.4" transform="rotate(-22 144.5 540.2)" style="fill:#fff"/>
<ellipse class="k" cx="193.6" cy="518.1" rx="9" ry="13.8" transform="rotate(-22 193.6 518.1)" style="stroke-width:2.1"/>
</g>
<g id="balloons">
<circle class="b" cx="450.9" cy="232.6" r="13"/>
<path class="l" d="M442.9 242.9 L417.6 275.5"/>
<text class="bt" transform="scale(0.52 1)" x="867.12" y="237.1" font-size="12.6">1</text>
<circle class="b" cx="285.7" cy="248.8" r="12.7"/>
<path class="l" d="M285.6 261.5 L285.6 269.2"/>
<text class="bt" transform="scale(0.52 1)" x="549.42" y="253.3" font-size="12.6">6</text>
<circle class="b" cx="597.5" cy="254.2" r="12.7"/>
<path class="l" d="M584.9 252.8 L562.9 250.4"/>
<text class="bt" transform="scale(0.52 1)" x="1149.04" y="258.7" font-size="12.6">7</text>
<circle class="b" cx="586" cy="296.5" r="15"/>
<path class="l" d="M572 301.9 L549.3 310.6"/>
<text class="bt" transform="scale(0.52 1)" x="1122.50 1131.35" y="301" font-size="12.6">14</text>
<circle class="b" cx="169.6" cy="293.4" r="15"/>
<path class="l" d="M166.1 308 L164.6 314.2"/>
<text class="bt" transform="scale(0.52 1)" x="321.73 330.58" y="297.9" font-size="12.6">15</text>
<circle class="b" cx="240.8" cy="289.3" r="15"/>
<path class="l" d="M248.7 302.1 L253.3 309.6"/>
<text class="bt" transform="scale(0.52 1)" x="458.65 467.50" y="293.8" font-size="12.6">16</text>
<circle class="b" cx="400.3" cy="318" r="15"/>
<path class="l" d="M398.8 332.9 L397.4 346.9"/>
<text class="bt" transform="scale(0.52 1)" x="765.38 774.23" y="322.5" font-size="12.6">17</text>
<circle class="b" cx="340.5" cy="330.1" r="15"/>
<path class="l" d="M336.7 344.6 L331 366.8"/>
<text class="bt" transform="scale(0.52 1)" x="650.38 659.23" y="334.6" font-size="12.6">19</text>
<circle class="b" cx="616.4" cy="348.5" r="15"/>
<path class="l" d="M602.2 353.4 L579.2 361.5"/>
<text class="bt" transform="scale(0.52 1)" x="1180.96 1189.81" y="353" font-size="12.6">18</text>
<circle class="b" cx="639.4" cy="384.8" r="13"/>
<path class="l" d="M637.1 397.6 L631 431"/>
<text class="bt" transform="scale(0.52 1)" x="1229.62" y="389.3" font-size="12.6">8</text>
<circle class="b" cx="98.4" cy="352.9" r="15"/>
<path class="l" d="M100.3 367.8 L102.3 383.4"/>
<text class="bt" transform="scale(0.52 1)" x="184.81 193.65" y="357.4" font-size="12.6">12</text>
<circle class="b" cx="172.6" cy="354.5" r="15"/>
<path class="l" d="M186.2 360.9 L192.2 363.8"/>
<text class="bt" transform="scale(0.52 1)" x="327.50 336.35" y="359" font-size="12.6">13</text>
<circle class="b" cx="131.8" cy="364.2" r="15"/>
<path class="l" d="M131.8 379.2 L131.8 398.4"/>
<text class="bt" transform="scale(0.52 1)" x="249.04 257.88" y="368.7" font-size="12.6">11</text>
<circle class="b" cx="156.9" cy="385" r="12.7"/>
<path class="l" d="M156.9 397.7 L156.9 406.4"/>
<text class="bt" transform="scale(0.52 1)" x="301.73" y="389.5" font-size="12.6">4</text>
<circle class="b" cx="114.6" cy="429.6" r="15"/>
<path class="l" d="M117.3 414.8 L120 400"/>
<text class="bt" transform="scale(0.52 1)" x="215.96 224.81" y="434.1" font-size="12.6">10</text>
<circle class="b" cx="410.3" cy="475.8" r="13"/>
<path class="l" d="M402.1 465.7 L387.7 448.1"/>
<text class="bt" transform="scale(0.52 1)" x="789.04" y="480.3" font-size="12.6">3</text>
<circle class="b" cx="138.1" cy="570.1" r="13"/>
<path class="l" d="M139 557.1 L139.7 546"/>
<text class="bt" transform="scale(0.52 1)" x="265.58" y="574.6" font-size="12.6">5</text>
<circle class="b" cx="188.6" cy="560" r="15"/>
<path class="l" d="M188.1 545 L187.5 527.1"/>
<text class="bt" transform="scale(0.52 1)" x="358.27 367.12" y="564.5" font-size="12.6">20</text>
<circle class="b" cx="172.4" cy="744.1" r="13"/>
<path class="l" d="M183.7 737.6 L200.3 728"/>
<text class="bt" transform="scale(0.52 1)" x="331.54" y="748.6" font-size="12.6">2</text>
<circle class="b" cx="268.4" cy="796.1" r="13"/>
<path class="l" d="M280.9 799.7 L306.2 807"/>
<text class="bt" transform="scale(0.52 1)" x="516.15" y="800.6" font-size="12.6">9</text>
</g>
<g id="table">
<path class="g" d="M464.5 744.5H868.5V1129.5H464.5ZM464.5 765.5H868.5M464.5 783.5H868.5M464.5 801.5H868.5M464.5 819.5H868.5M464.5 838.5H868.5M464.5 856.5H868.5M464.5 874.5H868.5M464.5 892.5H868.5M464.5 910.5H868.5M464.5 929.5H868.5M464.5 947.5H868.5M464.5 965.5H868.5M464.5 983.5H868.5M464.5 1001.5H868.5M464.5 1019.5H868.5M464.5 1038.5H868.5M464.5 1056.5H868.5M464.5 1074.5H868.5M464.5 1092.5H868.5M464.5 1110.5H868.5M505.5 744.5V1129.5M578.5 744.5V1129.5M796.5 744.5V1129.5M837.5 744.5V1129.5"/>
<text class="th" xml:space="preserve" text-anchor="middle" transform="scale(0.700 1)" x="676.51 686.11 695.71 705.31" y="759.50" font-size="13.30">ITEM</text>
<text class="th" xml:space="preserve" text-anchor="middle" transform="scale(0.700 1)" x="734.66 744.26 753.86 763.46 773.06 782.66" y="759.50" font-size="13.30">PART #</text>
<text class="th" xml:space="preserve" text-anchor="middle" transform="scale(0.700 1)" x="837.94 847.54 857.14 866.74 876.34 885.94 895.54 905.14 914.74 924.34 933.94" y="759.50" font-size="13.30">DESCRIPTION</text>
<text class="th" xml:space="preserve" text-anchor="middle" transform="scale(0.700 1)" x="1149.09 1158.69 1168.29" y="759.50" font-size="13.30">QTY</text>
<text class="th" xml:space="preserve" text-anchor="middle" transform="scale(0.700 1)" x="1207.39 1216.46 1225.54 1234.61" y="759.50" font-size="13.30">NOTE</text>
<text class="tb" xml:space="preserve" text-anchor="middle" transform="scale(0.800 1)" x="591.39" y="779.00" font-size="11.90"><tspan class="d" font-size="10.90">1</tspan></text>
<text class="tb" xml:space="preserve" text-anchor="middle" transform="scale(0.800 1)" x="642.27 649.56 656.84 664.13 671.42" y="779.00" font-size="11.90"><tspan class="d" font-size="10.90">65014</tspan></text>
<text class="tb" xml:space="preserve" text-anchor="middle" transform="scale(0.800 1)" x="732.64 739.93 747.22 754.51 761.79 769.08 776.37 783.66 790.94 798.23 805.52 812.81 820.09 827.38 834.67 841.96 849.24 856.53 863.82 871.11 878.39 885.68" y="779.00" font-size="11.90">HANDRAIL PONTOON WINCH</text>
<text class="tb" xml:space="preserve" text-anchor="middle" transform="scale(0.800 1)" x="1004.89" y="779.00" font-size="11.90"><tspan class="d" font-size="10.90">1</tspan></text>
<text class="tb" xml:space="preserve" text-anchor="middle" transform="scale(0.800 1)" x="591.39" y="797.00" font-size="11.90"><tspan class="d" font-size="10.90">2</tspan></text>
<text class="tb" xml:space="preserve" text-anchor="middle" transform="scale(0.800 1)" x="642.27 649.56 656.84 664.13 671.42" y="797.00" font-size="11.90"><tspan class="d" font-size="10.90">65015</tspan></text>
<text class="tb" xml:space="preserve" text-anchor="middle" transform="scale(0.800 1)" x="732.64 739.93 747.22 754.51 761.79 769.08 776.37 783.66 790.94 798.23 805.52 812.81 820.09 827.38 834.67 841.96 849.24 856.53 863.82 871.11 878.39 885.68 892.97" y="797.00" font-size="11.90">BOTTOM WINCH POST WMENT</text>
<text class="tb" xml:space="preserve" text-anchor="middle" transform="scale(0.800 1)" x="1004.89" y="797.00" font-size="11.90"><tspan class="d" font-size="10.90">1</tspan></text>
<text class="tb" xml:space="preserve" text-anchor="middle" transform="scale(0.800 1)" x="591.39" y="815.00" font-size="11.90"><tspan class="d" font-size="10.90">3</tspan></text>
<text class="tb" xml:space="preserve" text-anchor="middle" transform="scale(0.800 1)" x="642.27 649.56 656.84 664.13 671.42" y="815.00" font-size="11.90"><tspan class="d" font-size="10.90">65016</tspan></text>
<text class="tb" xml:space="preserve" text-anchor="middle" transform="scale(0.800 1)" x="732.64 739.93 747.22 754.51 761.79 769.08 776.37 783.66 790.94 798.23 805.52 812.81 820.09 827.38 834.67 841.96 849.24 856.53 863.82 871.11" y="815.00" font-size="11.90">TOP WINCH POST WMENT</text>
<text class="tb" xml:space="preserve" text-anchor="middle" transform="scale(0.800 1)" x="1004.89" y="815.00" font-size="11.90"><tspan class="d" font-size="10.90">1</tspan></text>
<text class="tb" xml:space="preserve" text-anchor="middle" transform="scale(0.800 1)" x="591.39" y="834.00" font-size="11.90"><tspan class="d" font-size="10.90">4</tspan></text>
<text class="tb" xml:space="preserve" text-anchor="middle" transform="scale(0.800 1)" x="642.27 649.56 656.84 664.13 671.42" y="834.00" font-size="11.90"><tspan class="d" font-size="10.90">68683</tspan></text>
<text class="tb" xml:space="preserve" text-anchor="middle" transform="scale(0.800 1)" x="732.64 739.93 747.22 754.51 761.79 769.08 776.37 783.66 790.94 798.23 805.52 812.81 820.09 827.38 834.67 841.96 849.24 856.53 863.82 871.11" y="834.00" font-size="11.90">CUP WASHER - WINCHES</text>
<text class="tb" xml:space="preserve" text-anchor="middle" transform="scale(0.800 1)" x="1004.89" y="834.00" font-size="11.90"><tspan class="d" font-size="10.90">2</tspan></text>
<text class="tb" xml:space="preserve" text-anchor="middle" transform="scale(0.800 1)" x="591.39" y="852.00" font-size="11.90"><tspan class="d" font-size="10.90">5</tspan></text>
<text class="tb" xml:space="preserve" text-anchor="middle" transform="scale(0.800 1)" x="642.27 649.56 656.84 664.13 671.42 678.71 685.99" y="852.00" font-size="11.90"><tspan class="d" font-size="10.90">0110114</tspan></text>
<text class="tb" xml:space="preserve" text-anchor="middle" transform="scale(0.800 1)" x="732.64 739.93 747.22 754.51 761.79 769.08 776.37 783.66 790.94 798.23 805.52 812.81 820.09 827.38 834.67 841.96 849.24 856.53 863.82 871.11" y="852.00" font-size="11.90">HH <tspan class="d" font-size="10.90">1</tspan>/<tspan class="d" font-size="10.90">2</tspan>-<tspan class="d" font-size="10.90">13</tspan> X <tspan class="d" font-size="10.90">4</tspan> CS GR<tspan class="d" font-size="10.90">5</tspan></text>
<text class="tb" xml:space="preserve" text-anchor="middle" transform="scale(0.800 1)" x="1004.89" y="852.00" font-size="11.90"><tspan class="d" font-size="10.90">2</tspan></text>
<text class="tb" xml:space="preserve" text-anchor="middle" transform="scale(0.800 1)" x="591.39" y="870.00" font-size="11.90"><tspan class="d" font-size="10.90">6</tspan></text>
<text class="tb" xml:space="preserve" text-anchor="middle" transform="scale(0.800 1)" x="642.27 649.56 656.84 664.13 671.42 678.71 685.99" y="870.00" font-size="11.90"><tspan class="d" font-size="10.90">0140040</tspan></text>
<text class="tb" xml:space="preserve" text-anchor="middle" transform="scale(0.800 1)" x="732.64 739.93 747.22 754.51 761.79 769.08 776.37 783.66 790.94 798.23 805.52 812.81 820.09 827.38 834.67 841.96 849.24 856.53 863.82 871.11" y="870.00" font-size="11.90">HH <tspan class="d" font-size="10.90">3</tspan>/<tspan class="d" font-size="10.90">8</tspan>-<tspan class="d" font-size="10.90">16</tspan> X <tspan class="d" font-size="10.90">1</tspan> CS GR<tspan class="d" font-size="10.90">5</tspan></text>
<text class="tb" xml:space="preserve" text-anchor="middle" transform="scale(0.800 1)" x="1004.89" y="870.00" font-size="11.90"><tspan class="d" font-size="10.90">2</tspan></text>
<text class="tb" xml:space="preserve" text-anchor="middle" transform="scale(0.800 1)" x="591.39" y="888.00" font-size="11.90"><tspan class="d" font-size="10.90">7</tspan></text>
<text class="tb" xml:space="preserve" text-anchor="middle" transform="scale(0.800 1)" x="642.27 649.56 656.84 664.13 671.42 678.71 685.99" y="888.00" font-size="11.90"><tspan class="d" font-size="10.90">0140047</tspan></text>
<text class="tb" xml:space="preserve" text-anchor="middle" transform="scale(0.800 1)" x="732.64 739.93 747.22 754.51 761.79 769.08 776.37 783.66 790.94 798.23 805.52 812.81 820.09 827.38 834.67 841.96 849.24 856.53 863.82 871.11 878.39 885.68 892.97 900.26" y="888.00" font-size="11.90">HH <tspan class="d" font-size="10.90">3</tspan>/<tspan class="d" font-size="10.90">8</tspan>-<tspan class="d" font-size="10.90">16</tspan> X <tspan class="d" font-size="10.90">1</tspan> <tspan class="d" font-size="10.90">3</tspan>/<tspan class="d" font-size="10.90">4</tspan> CS GR<tspan class="d" font-size="10.90">5</tspan></text>
<text class="tb" xml:space="preserve" text-anchor="middle" transform="scale(0.800 1)" x="1004.89" y="888.00" font-size="11.90"><tspan class="d" font-size="10.90">2</tspan></text>
<text class="tb" xml:space="preserve" text-anchor="middle" transform="scale(0.800 1)" x="591.39" y="906.00" font-size="11.90"><tspan class="d" font-size="10.90">8</tspan></text>
<text class="tb" xml:space="preserve" text-anchor="middle" transform="scale(0.800 1)" x="642.27 649.56 656.84 664.13 671.42 678.71 685.99" y="906.00" font-size="11.90"><tspan class="d" font-size="10.90">0220110</tspan></text>
<text class="tb" xml:space="preserve" text-anchor="middle" transform="scale(0.800 1)" x="732.64 739.93 747.22 754.51 761.79 769.08 776.37 783.66 790.94 798.23 805.52 812.81 820.09 827.38 834.67 841.96 849.24 856.53 863.82 871.11 878.39 885.68 892.97 900.26 907.54 914.83 922.12 929.41 936.69 943.98 951.27 958.56 965.84 973.13 980.42" y="906.00" font-size="11.90">CARR <tspan class="d" font-size="10.90">3</tspan>/<tspan class="d" font-size="10.90">8</tspan>-<tspan class="d" font-size="10.90">16</tspan> X <tspan class="d" font-size="10.90">1</tspan> <tspan class="d" font-size="10.90">1</tspan>/<tspan class="d" font-size="10.90">2</tspan> FULL THREAD GR<tspan class="d" font-size="10.90">5</tspan></text>
<text class="tb" xml:space="preserve" text-anchor="middle" transform="scale(0.800 1)" x="1004.89" y="906.00" font-size="11.90"><tspan class="d" font-size="10.90">2</tspan></text>
<text class="tb" xml:space="preserve" text-anchor="middle" transform="scale(0.800 1)" x="591.39" y="925.00" font-size="11.90"><tspan class="d" font-size="10.90">9</tspan></text>
<text class="tb" xml:space="preserve" text-anchor="middle" transform="scale(0.800 1)" x="642.27 649.56 656.84 664.13 671.42 678.71 685.99" y="925.00" font-size="11.90"><tspan class="d" font-size="10.90">0340200</tspan></text>
<text class="tb" xml:space="preserve" text-anchor="middle" transform="scale(0.800 1)" x="732.64 739.93 747.22 754.51 761.79 769.08 776.37 783.66 790.94 798.23 805.52 812.81 820.09 827.38 834.67 841.96 849.24 856.53 863.82 871.11 878.39 885.68 892.97 900.26 907.54 914.83 922.12 929.41 936.69 943.98 951.27 958.56" y="925.00" font-size="11.90">SUB <tspan class="d" font-size="10.90">1</tspan>/<tspan class="d" font-size="10.90">2</tspan> X <tspan class="d" font-size="10.90">3</tspan> <tspan class="d" font-size="10.90">9</tspan>/<tspan class="d" font-size="10.90">16</tspan> X <tspan class="d" font-size="10.90">6</tspan> W/<tspan class="d" font-size="10.90">2</tspan> <tspan class="d" font-size="10.90">3</tspan>/<tspan class="d" font-size="10.90">8</tspan> THR</text>
<text class="tb" xml:space="preserve" text-anchor="middle" transform="scale(0.800 1)" x="1004.89" y="925.00" font-size="11.90"><tspan class="d" font-size="10.90">2</tspan></text>
<text class="tb" xml:space="preserve" text-anchor="middle" transform="scale(0.800 1)" x="591.39 598.68" y="943.00" font-size="11.90"><tspan class="d" font-size="10.90">10</tspan></text>
<text class="tb" xml:space="preserve" text-anchor="middle" transform="scale(0.800 1)" x="642.27 649.56 656.84 664.13 671.42 678.71 685.99" y="943.00" font-size="11.90"><tspan class="d" font-size="10.90">1340030</tspan></text>
<text class="tb" xml:space="preserve" text-anchor="middle" transform="scale(0.800 1)" x="732.64 739.93 747.22 754.51 761.79 769.08 776.37 783.66 790.94 798.23 805.52 812.81 820.09 827.38 834.67 841.96 849.24 856.53 863.82 871.11 878.39 885.68 892.97 900.26 907.54 914.83 922.12 929.41 936.69 943.98 951.27 958.56" y="943.00" font-size="11.90">LOCKWASHER <tspan class="d" font-size="10.90">3</tspan>/<tspan class="d" font-size="10.90">8</tspan> S/T MED ULTRASEAL</text>
<text class="tb" xml:space="preserve" text-anchor="middle" transform="scale(0.800 1)" x="1004.89" y="943.00" font-size="11.90"><tspan class="d" font-size="10.90">2</tspan></text>
<text class="tb" xml:space="preserve" text-anchor="middle" transform="scale(0.800 1)" x="591.39 598.68" y="961.00" font-size="11.90"><tspan class="d" font-size="10.90">11</tspan></text>
<text class="tb" xml:space="preserve" text-anchor="middle" transform="scale(0.800 1)" x="642.27 649.56 656.84 664.13 671.42 678.71 685.99" y="961.00" font-size="11.90"><tspan class="d" font-size="10.90">1340095</tspan></text>
<text class="tb" xml:space="preserve" text-anchor="middle" transform="scale(0.800 1)" x="732.64 739.93 747.22 754.51 761.79 769.08 776.37 783.66 790.94 798.23 805.52 812.81 820.09 827.38 834.67 841.96 849.24 856.53 863.82" y="961.00" font-size="11.90">WASHER USS FLAT <tspan class="d" font-size="10.90">3</tspan>/<tspan class="d" font-size="10.90">8</tspan></text>
<text class="tb" xml:space="preserve" text-anchor="middle" transform="scale(0.800 1)" x="1004.89" y="961.00" font-size="11.90"><tspan class="d" font-size="10.90">3</tspan></text>
<text class="tb" xml:space="preserve" text-anchor="middle" transform="scale(0.800 1)" x="591.39 598.68" y="979.00" font-size="11.90"><tspan class="d" font-size="10.90">12</tspan></text>
<text class="tb" xml:space="preserve" text-anchor="middle" transform="scale(0.800 1)" x="642.27 649.56 656.84 664.13 671.42 678.71 685.99" y="979.00" font-size="11.90"><tspan class="d" font-size="10.90">1410109</tspan></text>
<text class="tb" xml:space="preserve" text-anchor="middle" transform="scale(0.800 1)" x="732.64 739.93 747.22 754.51 761.79 769.08 776.37 783.66 790.94 798.23 805.52 812.81 820.09 827.38" y="979.00" font-size="11.90">HEX NUT <tspan class="d" font-size="10.90">3</tspan>/<tspan class="d" font-size="10.90">8</tspan>-<tspan class="d" font-size="10.90">16</tspan></text>
<text class="tb" xml:space="preserve" text-anchor="middle" transform="scale(0.800 1)" x="1004.89" y="979.00" font-size="11.90"><tspan class="d" font-size="10.90">2</tspan></text>
<text class="tb" xml:space="preserve" text-anchor="middle" transform="scale(0.800 1)" x="591.39 598.68" y="997.00" font-size="11.90"><tspan class="d" font-size="10.90">13</tspan></text>
<text class="tb" xml:space="preserve" text-anchor="middle" transform="scale(0.800 1)" x="642.27 649.56 656.84 664.13 671.42 678.71 685.99" y="997.00" font-size="11.90"><tspan class="d" font-size="10.90">1440101</tspan></text>
<text class="tb" xml:space="preserve" text-anchor="middle" transform="scale(0.800 1)" x="732.64 739.93 747.22 754.51 761.79 769.08 776.37 783.66 790.94 798.23 805.52 812.81 820.09 827.38 834.67 841.96 849.24 856.53 863.82 871.11 878.39 885.68 892.97 900.26 907.54 914.83 922.12 929.41 936.69" y="997.00" font-size="11.90">HEX LOCKNUT FLANGE <tspan class="d" font-size="10.90">3</tspan>/<tspan class="d" font-size="10.90">8</tspan>-<tspan class="d" font-size="10.90">16</tspan> W/T</text>
<text class="tb" xml:space="preserve" text-anchor="middle" transform="scale(0.800 1)" x="1004.89" y="997.00" font-size="11.90"><tspan class="d" font-size="10.90">4</tspan></text>
<text class="tb" xml:space="preserve" text-anchor="middle" transform="scale(0.800 1)" x="591.39 598.68" y="1015.00" font-size="11.90"><tspan class="d" font-size="10.90">14</tspan></text>
<text class="tb" xml:space="preserve" text-anchor="middle" transform="scale(0.800 1)" x="642.27 649.56 656.84 664.13 671.42 678.71 685.99" y="1015.00" font-size="11.90"><tspan class="d" font-size="10.90">1440102</tspan></text>
<text class="tb" xml:space="preserve" text-anchor="middle" transform="scale(0.800 1)" x="732.64 739.93 747.22 754.51 761.79 769.08 776.37 783.66 790.94 798.23 805.52 812.81 820.09 827.38 834.67 841.96 849.24 856.53 863.82 871.11 878.39 885.68 892.97 900.26 907.54 914.83 922.12 929.41 936.69" y="1015.00" font-size="11.90">HEX LOCKNUT FLANGE <tspan class="d" font-size="10.90">1</tspan>/<tspan class="d" font-size="10.90">2</tspan>-<tspan class="d" font-size="10.90">13</tspan> W/T</text>
<text class="tb" xml:space="preserve" text-anchor="middle" transform="scale(0.800 1)" x="1004.89" y="1015.00" font-size="11.90"><tspan class="d" font-size="10.90">6</tspan></text>
<text class="tb" xml:space="preserve" text-anchor="middle" transform="scale(0.800 1)" x="591.39 598.68" y="1034.00" font-size="11.90"><tspan class="d" font-size="10.90">15</tspan></text>
<text class="tb" xml:space="preserve" text-anchor="middle" transform="scale(0.800 1)" x="642.27 649.56 656.84 664.13 671.42 678.71 685.99" y="1034.00" font-size="11.90"><tspan class="d" font-size="10.90">3110241</tspan></text>
<text class="tb" xml:space="preserve" text-anchor="middle" transform="scale(0.800 1)" x="732.64 739.93 747.22 754.51 761.79 769.08 776.37 783.66 790.94 798.23 805.52 812.81 820.09 827.38 834.67 841.96 849.24 856.53 863.82 871.11 878.39 885.68 892.97 900.26 907.54 914.83 922.12 929.41 936.69 943.98 951.27 958.56" y="1034.00" font-size="11.90">WINCH HANDLE   DL<tspan class="d" font-size="10.90">600</tspan> <tspan class="d" font-size="10.90">800</tspan> <tspan class="d" font-size="10.90">1100</tspan> <tspan class="d" font-size="10.90">14</tspan></text>
<text class="tb" xml:space="preserve" text-anchor="middle" transform="scale(0.800 1)" x="1004.89" y="1034.00" font-size="11.90"><tspan class="d" font-size="10.90">1</tspan></text>
<text class="tb" xml:space="preserve" text-anchor="middle" transform="scale(0.800 1)" x="591.39 598.68" y="1052.00" font-size="11.90"><tspan class="d" font-size="10.90">16</tspan></text>
<text class="tb" xml:space="preserve" text-anchor="middle" transform="scale(0.800 1)" x="642.27 649.56 656.84 664.13 671.42 678.71 685.99" y="1052.00" font-size="11.90"><tspan class="d" font-size="10.90">3110344</tspan></text>
<text class="tb" xml:space="preserve" text-anchor="middle" transform="scale(0.800 1)" x="732.64 739.93 747.22 754.51 761.79 769.08 776.37 783.66 790.94 798.23 805.52 812.81 820.09 827.38 834.67 841.96 849.24 856.53 863.82 871.11 878.39 885.68 892.97 900.26 907.54 914.83" y="1052.00" font-size="11.90">WINCH DL<tspan class="d" font-size="10.90">1402</tspan> W/<tspan class="d" font-size="10.90">20</tspan> FT STRAP</text>
<text class="tb" xml:space="preserve" text-anchor="middle" transform="scale(0.800 1)" x="1004.89" y="1052.00" font-size="11.90"><tspan class="d" font-size="10.90">1</tspan></text>
<text class="tb" xml:space="preserve" text-anchor="middle" transform="scale(0.800 1)" x="591.39 598.68" y="1070.00" font-size="11.90"><tspan class="d" font-size="10.90">17</tspan></text>
<text class="tb" xml:space="preserve" text-anchor="middle" transform="scale(0.800 1)" x="642.27 649.56 656.84 664.13 671.42 678.71 685.99" y="1070.00" font-size="11.90"><tspan class="d" font-size="10.90">3510104</tspan></text>
<text class="tb" xml:space="preserve" text-anchor="middle" transform="scale(0.800 1)" x="732.64 739.93 747.22 754.51 761.79 769.08 776.37 783.66 790.94 798.23 805.52 812.81 820.09 827.38 834.67 841.96 849.24 856.53 863.82 871.11 878.39 885.68 892.97 900.26 907.54 914.83 922.12 929.41 936.69 943.98 951.27 958.56" y="1070.00" font-size="11.90">NON SKID <tspan class="d" font-size="10.90">1</tspan> IN X <tspan class="d" font-size="10.90">60</tspan> FT OCEAN GRAY</text>
<text class="tb" xml:space="preserve" text-anchor="middle" transform="scale(0.800 1)" x="1004.89" y="1070.00" font-size="11.90"><tspan class="d" font-size="10.90">3</tspan></text>
<text class="tb" xml:space="preserve" text-anchor="middle" transform="scale(0.800 1)" x="591.39 598.68" y="1088.00" font-size="11.90"><tspan class="d" font-size="10.90">18</tspan></text>
<text class="tb" xml:space="preserve" text-anchor="middle" transform="scale(0.800 1)" x="642.27 649.56 656.84 664.13 671.42 678.71 685.99" y="1088.00" font-size="11.90"><tspan class="d" font-size="10.90">3510538</tspan></text>
<text class="tb" xml:space="preserve" text-anchor="middle" transform="scale(0.800 1)" x="732.64 739.93 747.22 754.51 761.79 769.08 776.37 783.66 790.94 798.23 805.52 812.81 820.09 827.38 834.67 841.96 849.24 856.53 863.82 871.11" y="1088.00" font-size="11.90">REAR CROSSMEMBER PAD</text>
<text class="tb" xml:space="preserve" text-anchor="middle" transform="scale(0.800 1)" x="1004.89" y="1088.00" font-size="11.90"><tspan class="d" font-size="10.90">2</tspan></text>
<text class="tb" xml:space="preserve" text-anchor="middle" transform="scale(0.800 1)" x="591.39 598.68" y="1106.00" font-size="11.90"><tspan class="d" font-size="10.90">19</tspan></text>
<text class="tb" xml:space="preserve" text-anchor="middle" transform="scale(0.800 1)" x="642.27 649.56 656.84 664.13 671.42 678.71 685.99" y="1106.00" font-size="11.90"><tspan class="d" font-size="10.90">4810709</tspan></text>
<text class="tb" xml:space="preserve" text-anchor="middle" transform="scale(0.800 1)" x="732.64 739.93 747.22 754.51 761.79 769.08 776.37 783.66 790.94 798.23 805.52 812.81 820.09 827.38 834.67 841.96 849.24 856.53 863.82 871.11 878.39 885.68 892.97 900.26 907.54 914.83 922.12 929.41 936.69 943.98 951.27" y="1106.00" font-size="11.90">DECAL TRAILER CAUTION AND WARNI</text>
<text class="tb" xml:space="preserve" text-anchor="middle" transform="scale(0.800 1)" x="1004.89" y="1106.00" font-size="11.90"><tspan class="d" font-size="10.90">1</tspan></text>
<text class="tb" xml:space="preserve" text-anchor="middle" transform="scale(0.800 1)" x="591.39 598.68" y="1125.00" font-size="11.90"><tspan class="d" font-size="10.90">20</tspan></text>
<text class="tb" xml:space="preserve" text-anchor="middle" transform="scale(0.800 1)" x="642.27 649.56 656.84 664.13 671.42 678.71 685.99" y="1125.00" font-size="11.90"><tspan class="d" font-size="10.90">4811451</tspan></text>
<text class="tb" xml:space="preserve" text-anchor="middle" transform="scale(0.800 1)" x="732.64 739.93 747.22 754.51 761.79 769.08 776.37 783.66 790.94 798.23 805.52 812.81 820.09 827.38 834.67 841.96 849.24 856.53 863.82 871.11 878.39 885.68 892.97 900.26 907.54 914.83 922.12 929.41" y="1125.00" font-size="11.90">DECAL NMMA CERTIFIED TRAILER</text>
<text class="tb" xml:space="preserve" text-anchor="middle" transform="scale(0.800 1)" x="1004.89" y="1125.00" font-size="11.90"><tspan class="d" font-size="10.90">1</tspan></text>
<rect x="516" y="1182" width="146" height="1" fill="#0000ff" shape-rendering="crispEdges"/>
</g>
</svg>
</body>
</html>
